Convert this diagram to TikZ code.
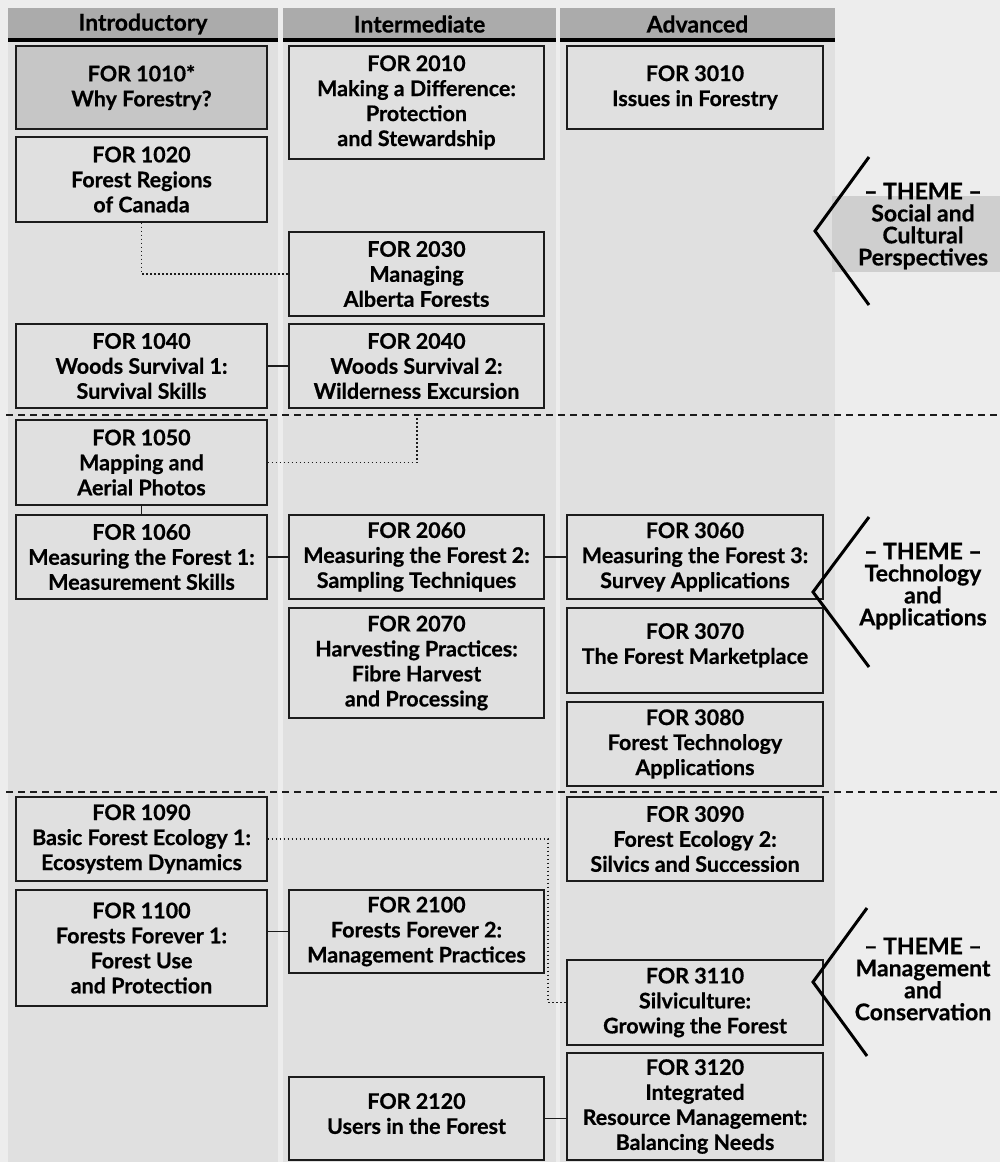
\documentclass[tikz,border=0pt]{standalone}
\usepackage{fontspec}
\setmainfont{Lato}[BoldFeatures={FakeBold=0.6}]
\usepackage{tikz}
\definecolor{pagebg}{HTML}{EDEDED}
\definecolor{colgray}{HTML}{E0E0E0}
\definecolor{headgray}{HTML}{ABABAB}
\definecolor{introgray}{HTML}{C6C6C6}
\definecolor{patchgray}{HTML}{CFCFCF}
\definecolor{inkdark}{HTML}{1C1C1C}
\tikzset{
  every node/.append style={font=\bfseries},
  course/.style={draw=inkdark,line width=1.4pt,align=center,inner sep=0pt,
    font=\fontsize{21.5}{25}\selectfont\bfseries},
  introbox/.style={course,minimum width=251pt},
  midbox/.style={course,minimum width=255pt},
  advbox/.style={course,minimum width=256pt},
  header/.style={font=\fontsize{23}{24}\selectfont\bfseries},
  link/.style={draw=inkdark,line width=1.4pt},
  prereq/.style={draw=inkdark,line width=1.5pt,dash pattern=on 1.5pt off 2.5pt},
  divider/.style={draw=inkdark,line width=1.6pt,dash pattern=on 7pt off 5pt},
  theme/.style={align=center,font=\fontsize{23}{22}\selectfont\bfseries},
  chevron/.style={draw=black,line width=3pt,miter limit=10}
}

\begin{document}
\begin{tikzpicture}[x=1pt,y=-1pt]
  \useasboundingbox (0,0) rectangle (1000,1162);
  \fill[pagebg] (0,0) rectangle (1000,1162);
  \fill[colgray] (8,42) rectangle (278,1162);
  \fill[colgray] (283,42) rectangle (556,1162);
  \fill[colgray] (560,42) rectangle (835,1162);
  \fill[headgray] (8,8) rectangle (278,42);
  \fill[headgray] (283,8) rectangle (556,42);
  \fill[headgray] (560,8) rectangle (835,42);
  \draw[line width=3.5pt] (8,40)--(278,40) (283,40)--(556,40) (560,40)--(835,40);
  \node[header] (hintro) at (143,24) {Introductory};
  \node[header] (hinter) at (419.5,24) {Intermediate};
  \node[header] (hadv) at (697.5,24) {Advanced};

  \node[introbox,fill=introgray,minimum height=83pt] (f1010) at (141.5,87.5) {FOR 1010*\\Why Forestry?};
  \node[midbox,minimum height=113pt] (f2010) at (416.5,102.5) {FOR 2010\\Making a Difference:\\Protection\\and Stewardship};
  \node[advbox,minimum height=83pt] (f3010) at (695,87.5) {FOR 3010\\Issues in Forestry};
  \node[introbox,minimum height=85pt] (f1020) at (141.5,179.5) {FOR 1020\\Forest Regions\\of Canada};
  \node[midbox,minimum height=84pt] (f2030) at (416.5,274) {FOR 2030\\Managing\\Alberta Forests};
  \node[introbox,minimum height=84pt] (f1040) at (141.5,366) {FOR 1040\\Woods Survival 1:\\Survival Skills};
  \node[midbox,minimum height=84pt] (f2040) at (416.5,366) {FOR 2040\\Woods Survival 2:\\Wilderness Excursion};

  \node[introbox,minimum height=85pt] (f1050) at (141.5,462.5) {FOR 1050\\Mapping and\\Aerial Photos};
  \node[introbox,minimum height=84pt] (f1060) at (141.5,557) {FOR 1060\\Measuring the Forest 1:\\Measurement Skills};
  \node[midbox,minimum height=84pt] (f2060) at (416.5,557) {FOR 2060\\Measuring the Forest 2:\\Sampling Techniques};
  \node[advbox,minimum height=84pt] (f3060) at (695,557) {FOR 3060\\Measuring the Forest 3:\\Survey Applications};
  \node[midbox,minimum height=110pt] (f2070) at (416.5,663) {FOR 2070\\Harvesting Practices:\\Fibre Harvest\\and Processing};
  \node[advbox,minimum height=85pt,text depth=14pt] (f3070) at (695,650.5) {FOR 3070\\The Forest Marketplace};
  \node[advbox,minimum height=84pt] (f3080) at (695,744) {FOR 3080\\Forest Technology\\Applications};

  \node[introbox,minimum height=84pt] (f1090) at (141.5,839) {FOR 1090\\Basic Forest Ecology 1:\\Ecosystem Dynamics};
  \node[advbox,minimum height=84pt] (f3090) at (695,839) {FOR 3090\\Forest Ecology 2:\\Silvics and Succession};
  \node[introbox,minimum height=116pt] (f1100) at (141.5,948) {FOR 1100\\Forests Forever 1:\\Forest Use\\and Protection};
  \node[midbox,minimum height=83pt] (f2100) at (416.5,931.5) {FOR 2100\\Forests Forever 2:\\Management Practices};
  \node[advbox,minimum height=85pt] (f3110) at (695,1002.5) {FOR 3110\\Silviculture:\\Growing the Forest};
  \node[advbox,minimum height=107pt] (f3120) at (695,1106.5) {FOR 3120\\Integrated\\Resource Management:\\Balancing Needs};
  \node[midbox,minimum height=83pt,text depth=10pt] (f2120) at (416.5,1118.5) {FOR 2120\\Users in the Forest};

  \draw[divider] (6,415)--(1000,415);
  \draw[divider] (6,792)--(1000,792);

  \draw[link] (f1040)--(f2040);
  \draw[link] (f1050)--(f1060);
  \draw[link] (f1060)--(f2060);
  \draw[link] (f2060)--(f3060);
  \draw[link] (f2100.west)--(f2100.west -| f1100.east);
  \draw[link] (f2120.east)--(f2120.east -| f3120.west);

  \coordinate (mapturn) at (417,415);
  \coordinate (ecoturn) at (548,839);
  \draw[prereq] (f1020.south) |- (f2030.west);
  \draw[prereq] (f1050.east) -| (mapturn);
  \draw[prereq] (f1090.east) -- (ecoturn) |- (f3110.west);

  \fill[patchgray] (832,196) rectangle (1000,272);
  \node[theme] (social) at (923,226) {-- THEME --\\Social and\\Cultural\\Perspectives};
  \node[theme] (techno) at (923,586) {-- THEME --\\Technology\\and\\Applications};
  \node[theme] (manage) at (923,979) {-- THEME --\\Management\\and\\Conservation};
  \draw[chevron] (869,157)--(815,231)--(869,305);
  \draw[chevron] (869,517)--(813,592)--(869,667);
  \draw[chevron] (867,908)--(813,982)--(867,1056);
\end{tikzpicture}
\end{document}
